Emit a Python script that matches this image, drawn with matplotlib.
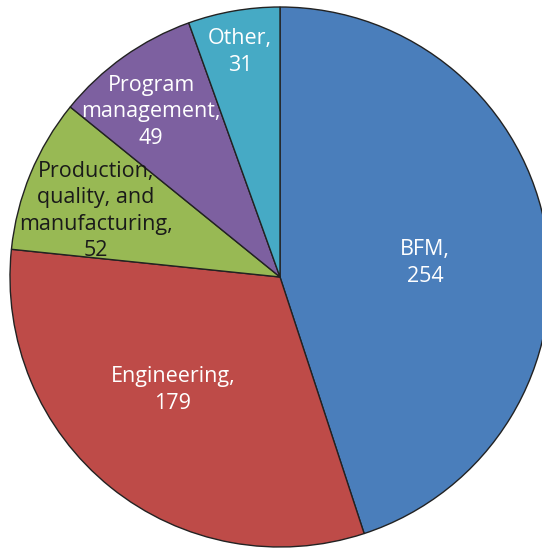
import matplotlib
matplotlib.use("Agg")
import matplotlib.pyplot as plt

# Data
labels = ["BFM", "Engineering", "Production,\nquality, and\nmanufacturing", "Program\nmanagement", "Other"]
values = [254, 179, 52, 49, 31]
colors = ["#4a7ebb", "#be4b48", "#98b954", "#7d60a0", "#46aac5"]
text_colors = ["white", "white", "#1a1a1a", "white", "white"]
# label anchor positions in pixels (x, y from top)
label_pos = [(425, 263), (173, 390), (96, 211), (151, 112), (240, 52)]

W, H = 542, 548
fig = plt.figure(figsize=(W / 100, H / 100), dpi=100)
ax = fig.add_axes([0, 0, 1, 1])
ax.set_xlim(0, W)
ax.set_ylim(0, H)
ax.set_aspect("equal")
ax.axis("off")

ax.pie(values, colors=colors, startangle=90, counterclock=False,
       center=(280, H - 277), radius=270,
       wedgeprops=dict(edgecolor="#222222", linewidth=1.0))
ax.set_xlim(0, W)
ax.set_ylim(0, H)

for lab, v, tc, (px, py) in zip(labels, values, text_colors, label_pos):
    ax.text(px, H - py, f"{lab},\n{v}", color=tc, ha="center", va="center",
            fontsize=15.5, family="Open Sans", linespacing=1.32)

fig.savefig("out.png", dpi=100)
